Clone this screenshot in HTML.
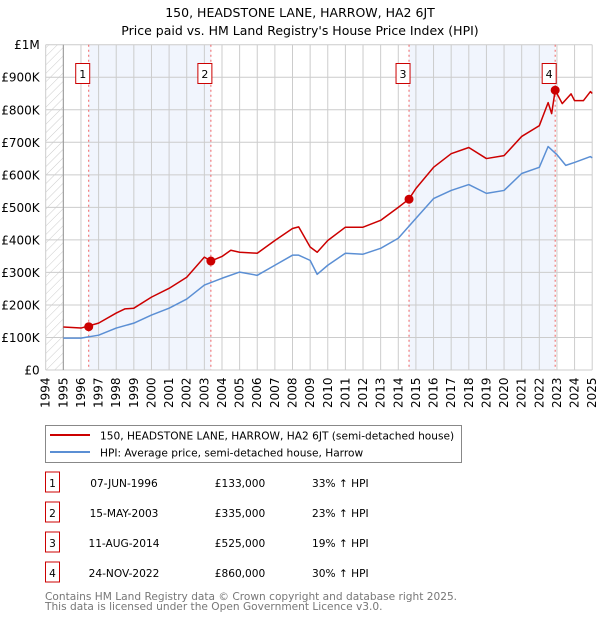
<!DOCTYPE html>
<html><head><meta charset="utf-8"><style>
body{margin:0;background:#fff;font-family:"DejaVu Sans","Liberation Sans",sans-serif;}
svg text{font-family:"DejaVu Sans","Liberation Sans",sans-serif;}
</style></head><body>
<svg id="chart" width="600" height="620" xmlns="http://www.w3.org/2000/svg">
<defs><pattern id="hatch" width="6" height="6" patternUnits="userSpaceOnUse" patternTransform="rotate(45)"><line x1="0" y1="0" x2="0" y2="6" stroke="#ccc" stroke-width="1"/></pattern></defs>
<text x="300" y="17" text-anchor="middle" font-size="12.5">150, HEADSTONE LANE, HARROW, HA2 6JT</text>
<text x="300" y="35" text-anchor="middle" font-size="12.5">Price paid vs. HM Land Registry's House Price Index (HPI)</text>
<g id="plot"></g>
<g>
<rect x="45.5" y="425.5" width="416" height="37" fill="#fff" stroke="#888"/>
<line x1="50" y1="435" x2="90" y2="435" stroke="#cc0000" stroke-width="2"/>
<text x="100" y="439.5" font-size="10.6">150, HEADSTONE LANE, HARROW, HA2 6JT (semi-detached house)</text>
<line x1="50" y1="452" x2="90" y2="452" stroke="#5b8fd4" stroke-width="2"/>
<text x="100" y="456.5" font-size="10.6">HPI: Average price, semi-detached house, Harrow</text>
</g>
<g id="table"></g>
<text x="45" y="600" font-size="10.6" fill="#777">Contains HM Land Registry data © Crown copyright and database right 2025.</text>
<text x="45" y="610" font-size="10.6" fill="#777">This data is licensed under the Open Government Licence v3.0.</text>
</svg>
<script>
const yearTicks=[1994,1995,1996,1997,1998,1999,2000,2001,2002,2003,2004,2005,2006,2007,2008,2009,2010,2011,2012,2013,2014,2015,2016,2017,2018,2019,2020,2021,2022,2023,2024,2025];
const valueTicks=[0,100,200,300,400,500,600,700,800,900,1000];
const valueLabels=["£0","£100K","£200K","£300K","£400K","£500K","£600K","£700K","£800K","£900K","£1M"];
const hpiYears=[1995,1996,1997,1998,1999,2000,2001,2002,2003,2004,2005,2006,2007,2008,2008.35,2009,2009.4,2010,2011,2012,2013,2014,2015,2016,2017,2018,2019,2020,2021,2022,2022.5,2023,2023.5,2024,2024.9,2025];
const hpiValues=[98,98,107,129,144,169,190,218,261,282,301,291,322,353,353,337,294,322,359,356,374,405,466,527,552,570,543,552,604,623,687,662,629,638,656,652];
const priceYears=[1995,1996,1997,1998,1998.5,1999,2000,2001,2002,2003,2003.37,2004,2004.5,2005,2006,2007,2008,2008.35,2009,2009.4,2010,2011,2012,2013,2014,2014.6,2015,2016,2017,2018,2019,2020,2021,2022,2022.5,2022.7,2022.9,2023.3,2023.8,2024,2024.5,2024.9,2025];
const priceValues=[132,129,144,175,188,190,224,251,285,347,335,349,368,362,359,398,435,440,378,362,398,439,439,460,500,525,558,623,665,684,650,659,718,751,822,788,860,819,849,828,828,856,850];
const saleLabels=["1","2","3","4"];
const saleYears=[1996.44,2003.37,2014.61,2022.9];
const saleValues=[133,335,525,860];
const saleDates=["07-JUN-1996","15-MAY-2003","11-AUG-2014","24-NOV-2022"];
const salePrices=["£133,000","£335,000","£525,000","£860,000"];
const saleHpi=["33% ↑ HPI","23% ↑ HPI","19% ↑ HPI","30% ↑ HPI"];

const NS="http://www.w3.org/2000/svg";
const X0=45.7,X1=592.2,Y0=370,Y1=44.7;
const xs=y=>X0+(y-1994)/(2025-1994)*(X1-X0);
const ys=v=>Y0-v/1000*(Y0-Y1);
const plot=document.getElementById('plot');
function mk(tag,attrs,parent){const e=document.createElementNS(NS,tag);for(const k in attrs)e.setAttribute(k,attrs[k]);(parent||plot).appendChild(e);return e;}

for(let i=0;i<4;i+=2){
 const r=mk('rect',{x:xs(saleYears[i]),y:Y1,width:xs(saleYears[i+1])-xs(saleYears[i]),height:Y0-Y1,fill:'#eef3fc',opacity:0.8});
 
 
}
const h=mk('rect',{x:X0,y:Y1,width:xs(1995)-X0,height:Y0-Y1,fill:'url(#hatch)'});


yearTicks.forEach(y=>{
 const l=mk('line',{x1:xs(y),x2:xs(y),y1:Y1,y2:Y0,stroke:'#ccc','stroke-width':1});
 
 
 const t=mk('text',{x:0,y:0,'font-size':12,transform:`translate(${xs(y)+4},${Y0+38}) rotate(-90)`});
 t.textContent=y;
 
 
});
valueTicks.forEach((v,i)=>{
 const l=mk('line',{x1:X0,x2:X1,y1:ys(v),y2:ys(v),stroke:'#ccc','stroke-width':1});
 
 
 const t=mk('text',{x:X0-6,y:ys(v)+4.5,'font-size':12,'text-anchor':'end'});
 t.textContent=valueLabels[i];
 
 
});
const ax=mk('line',{x1:xs(1995),x2:xs(1995),y1:Y1,y2:Y0,stroke:'#999'});


saleYears.forEach(y=>{
 const l=mk('line',{x1:xs(y),x2:xs(y),y1:Y1,y2:Y0,stroke:'#f06060','stroke-dasharray':'2,3','stroke-width':1});
 
 
});
function line(years,vals,color,name){
 const p=mk('polyline',{points:years.map((y,i)=>xs(y)+','+ys(vals[i])).join(' '),fill:'none',stroke:color,'stroke-width':1.5,'stroke-linejoin':'round'});
 
 
}
line(hpiYears,hpiValues,'#5b8fd4','hpi-line');
line(priceYears,priceValues,'#cc0000','price-line');
saleYears.forEach((y,i)=>{
 const c=mk('circle',{cx:xs(y),cy:ys(saleValues[i]),r:4.5,fill:'#cc0000'});
 
 
 const bx=mk('rect',{x:xs(y)-13,y:63.5,width:14,height:20,fill:'#fff',stroke:'#cc0000'});
 
 
 const t=mk('text',{x:xs(y)-6,y:78,'font-size':11,'text-anchor':'middle'});
 t.textContent=saleLabels[i];
 
 
});
const tb=document.getElementById('table');
saleLabels.forEach((s,i)=>{
 const cy=483+i*30;
 const r=mk('rect',{x:45.5,y:cy-11,width:14,height:20,fill:'#fff',stroke:'#cc0000'},tb);
 
 
 const cells=[[52.5,s,'middle'],[124,saleDates[i],'middle'],[240,salePrices[i],'middle'],[312,saleHpi[i],'start']];
 cells.forEach(c=>{
  const t=mk('text',{x:c[0],y:cy+4,'font-size':10.6,'text-anchor':c[2]},tb);
  t.textContent=c[1];
  
  
 });
});
</script>
</body></html>
